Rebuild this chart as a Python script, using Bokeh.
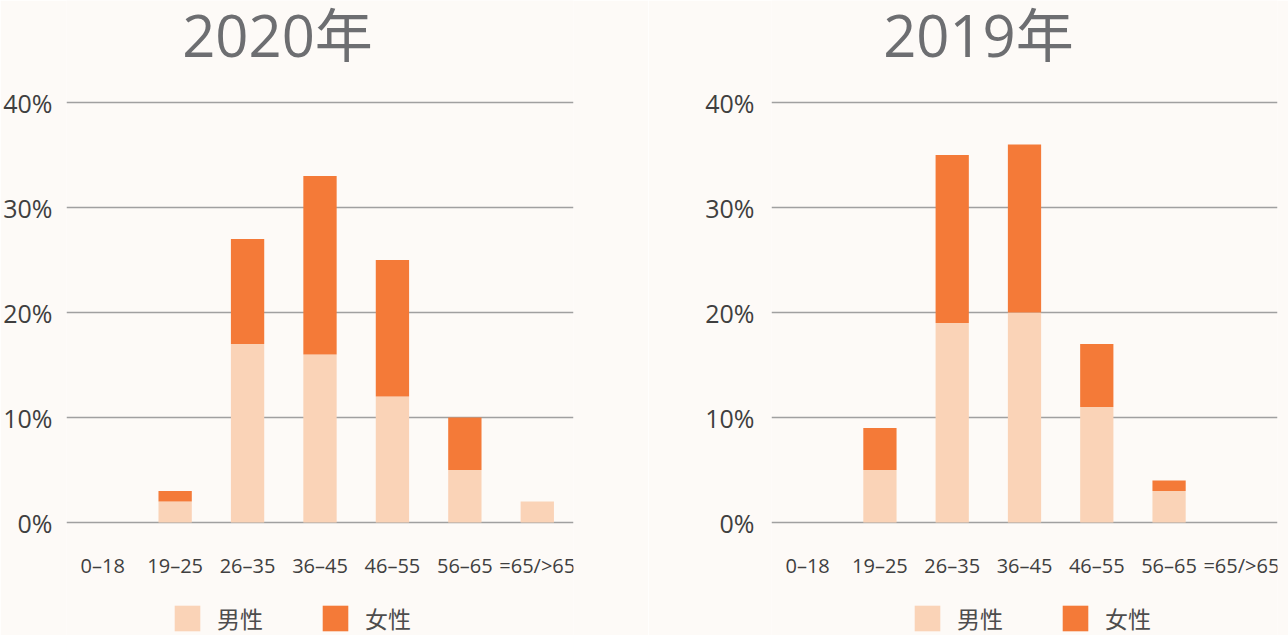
from bokeh.plotting import figure
from bokeh.models import (Range1d, FactorRange, Label, Legend, LegendItem,
                          PrintfTickFormatter, FixedTicker, ColumnDataSource)
from bokeh.layouts import row
from bokeh.embed import file_html
from bokeh.resources import INLINE

categories = ["0–18", "19–25", "26–35", "36–45", "46–55", "56–65", "=65/>65"]
male_2020 = [0, 2, 17, 16, 12, 5, 2]
female_2020 = [0, 1, 10, 17, 13, 5, 0]
male_2019 = [0, 5, 19, 20, 11, 3, 0]
female_2019 = [0, 4, 16, 16, 6, 1, 0]
y_ticks = [0, 10, 20, 30, 40]
titles = ["2020年", "2019年"]
series = ["男性", "女性"]

MALE_C = "#fad3b7"
FEMALE_C = "#f47a38"
BG = "#fdfaf7"
FONT = "Open Sans, Noto Sans CJK SC"
H = 635
PX_PER_UNIT = 10.5
ZERO_PX = 522  # pixel row of 0% from top


def make(title, male, female, width, bl, br, title_x, legend_x, standoff):
    y_top = ZERO_PX / PX_PER_UNIT
    y_bot = -(H - ZERO_PX) / PX_PER_UNIT
    p = figure(x_range=FactorRange(*categories, range_padding=0),
               y_range=Range1d(y_bot, y_top), width=width, height=H,
               output_backend="svg", toolbar_location=None,
               min_border_left=bl, min_border_right=br,
               min_border_top=0, min_border_bottom=0)
    p.background_fill_color = BG
    p.border_fill_color = BG
    p.outline_line_color = None

    src = ColumnDataSource(dict(cat=categories, m=male, f=female))
    rs = p.vbar_stack(["m", "f"], x="cat", width=0.46, source=src,
                      fill_color=[MALE_C, FEMALE_C], line_color=None)

    p.xgrid.grid_line_color = None
    p.ygrid.grid_line_color = "#a0a0a0"
    p.ygrid.grid_line_width = 1.5
    p.ygrid.ticker = FixedTicker(ticks=y_ticks)

    p.yaxis.ticker = FixedTicker(ticks=y_ticks)
    p.yaxis.formatter = PrintfTickFormatter(format="%d%%")
    for ax in (p.xaxis[0], p.yaxis[0]):
        ax.axis_line_color = None
        ax.major_tick_line_color = None
        ax.minor_tick_line_color = None
        ax.major_label_text_color = "#3f3f3f"
        ax.major_label_text_font = FONT
    p.yaxis.major_label_text_font_size = "25px"
    p.yaxis.major_label_standoff = standoff
    p.xaxis.fixed_location = 0
    p.xaxis.major_label_text_font_size = "20px"
    p.xaxis.major_label_standoff = 23

    p.add_layout(Label(x=title_x, y=(ZERO_PX - 34) / PX_PER_UNIT, text=title,
                       text_align="center", text_baseline="alphabetic",
                       text_font_size="58px", text_color="#6d6e71",
                       text_font=FONT))

    legend = Legend(items=[LegendItem(label=series[0], renderers=[rs[0]]),
                           LegendItem(label=series[1], renderers=[rs[1]])],
                    location=(legend_x, 0), orientation="horizontal",
                    glyph_width=32, glyph_height=32, label_standoff=14,
                    spacing=56, padding=0, margin=0,
                    border_line_color=None, background_fill_alpha=0,
                    label_text_font_size="23px", label_text_color="#4d4d4d",
                    label_text_font="Noto Sans CJK SC", label_height=32)
    p.add_layout(legend)
    return p


p1 = make(titles[0], male_2020, female_2020, 648, 66, 75, 2.913, 105, 8)
p2 = make(titles[1], male_2019, female_2019, 640, 123, 11, 2.863, 140, 11)

layout = row(p1, p2)
open("out.html", "w").write(file_html(layout, INLINE))
